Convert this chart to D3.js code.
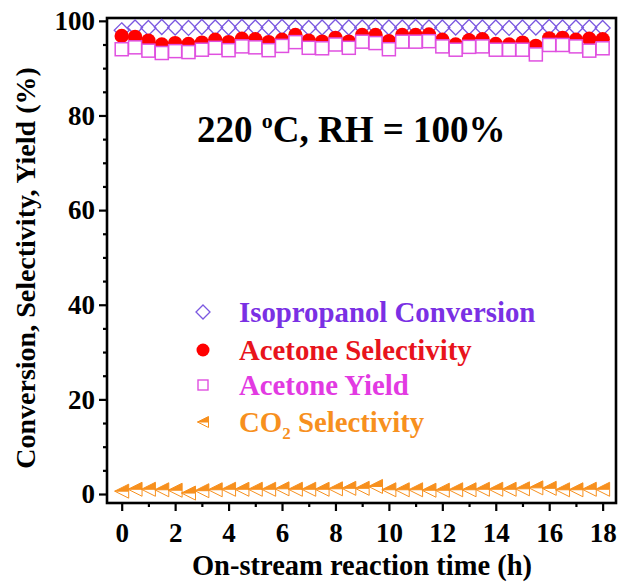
<!DOCTYPE html>
<html lang="en">
<head>
<meta charset="utf-8">
<title>Isopropanol conversion, 220 C</title>
<script src="https://cdn.jsdelivr.net/npm/d3@7"></script>
<style>
  body { margin: 0; background: #fff; }
  text { font-family: "Liberation Serif", "Times New Roman", serif; font-weight: bold; }
</style>
</head>
<body>
<script>
// time on stream (h), one sample every half hour
var hours = [0, 0.5, 1, 1.5, 2, 2.5, 3, 3.5, 4, 4.5, 5, 5.5, 6, 6.5, 7, 7.5, 8, 8.5, 9,
             9.5, 10, 10.5, 11, 11.5, 12, 12.5, 13, 13.5, 14, 14.5, 15, 15.5, 16, 16.5, 17, 17.5, 18];
var conversion = [98.0, 98.6, 98.5, 98.7, 98.6, 98.5, 98.7, 98.6, 98.6, 98.7, 98.6, 98.6, 98.7,
                  98.6, 98.5, 98.6, 98.7, 98.6, 98.6, 98.7, 98.6, 98.6, 98.7, 98.6, 98.6, 98.6,
                  98.7, 98.6, 98.6, 98.5, 98.6, 98.6, 98.7, 98.6, 98.6, 98.6, 98.5];
var selectivity = [96.8, 96.6, 95.8, 95.0, 95.3, 95.1, 95.4, 96.0, 95.5, 96.2, 96.1, 95.5, 96.0,
                   97.0, 95.8, 95.6, 96.4, 95.6, 97.0, 97.0, 95.7, 97.0, 97.0, 97.1, 96.0, 95.0,
                   95.9, 96.1, 95.1, 95.0, 95.4, 94.7, 96.3, 96.4, 96.0, 96.2, 96.1];
var yieldAcetone = [94.0, 94.4, 93.7, 93.2, 93.6, 93.4, 93.9, 94.3, 93.8, 94.6, 94.4, 93.8, 94.7,
                    95.5, 94.3, 94.2, 95.0, 94.3, 95.6, 95.3, 94.0, 95.6, 95.6, 95.7, 94.6, 93.9,
                    94.5, 94.6, 93.9, 93.9, 93.9, 92.9, 94.9, 94.9, 94.6, 93.7, 94.2];
var co2 = [0.6, 1.0, 1.0, 0.9, 0.8, 0.2, 0.7, 0.9, 1.0, 1.0, 1.0, 1.0, 1.1, 1.0, 1.0, 1.0, 1.1,
           1.2, 1.2, 1.6, 0.9, 0.9, 0.9, 0.8, 0.8, 0.9, 0.9, 1.0, 1.0, 1.0, 1.1, 1.3, 1.2, 0.9,
           0.9, 1.0, 1.0];

var xTicks = [0, 2, 4, 6, 8, 10, 12, 14, 16, 18];
var xMinor = [1, 3, 5, 7, 9, 11, 13, 15, 17];
var yTicks = [0, 20, 40, 60, 80, 100];
var yMinor = [5, 10, 15, 25, 30, 35, 45, 50, 55, 65, 70, 75, 85, 90, 95];

var legendNames = ["Isopropanol Conversion", "Acetone Selectivity", "Acetone Yield", "CO2 Selectivity"];

var cPurple = "#7a30e4", cDiamond = "#7b58e0";
var cRed = "#ff0000", cRedText = "#e8141c";
var cMag = "#e23ae2", cSquare = "#e050e0";
var cOrange = "#f7901e";

var W = 622, H = 583;
var svg = d3.select("body").append("svg").attr("width", W).attr("height", H);

var x = d3.scaleLinear().domain([-0.55, 18.5]).range([107, 616]);
var y = d3.scaleLinear().domain([-1.9, 100.6]).range([503, 18]);

// axes
var xAxis = svg.append("g").attr("transform", "translate(0," + y.range()[0] + ")")
    .call(d3.axisBottom(x).tickValues(xTicks).tickSize(8).tickPadding(6).tickFormat(d3.format("d")));
var xAxisMinor = svg.append("g").attr("transform", "translate(0," + y.range()[0] + ")")
    .call(d3.axisBottom(x).tickValues(xMinor).tickSize(4).tickFormat(""));
var yAxis = svg.append("g").attr("transform", "translate(" + x.range()[0] + ",0)")
    .call(d3.axisLeft(y).tickValues(yTicks).tickSize(8).tickPadding(4).tickFormat(d3.format("d")));
var yAxisMinor = svg.append("g").attr("transform", "translate(" + x.range()[0] + ",0)")
    .call(d3.axisLeft(y).tickValues(yMinor).tickSize(4).tickFormat(""));

[xAxis, xAxisMinor, yAxis, yAxisMinor].forEach(function(g) {
  g.select(".domain").remove();
  g.selectAll(".tick line").attr("stroke", "#000").attr("stroke-width", 2.2);
  g.selectAll(".tick text").attr("fill", "#000").style("font-size", "27px")
    .style("font-family", "'Liberation Serif', 'Times New Roman', serif").style("font-weight", "bold");
});
xAxis.selectAll(".tick text").attr("dy", "0.92em");

// frame
svg.append("rect")
  .attr("x", x.range()[0]).attr("y", y.range()[1])
  .attr("width", x.range()[1] - x.range()[0]).attr("height", y.range()[0] - y.range()[1])
  .attr("fill", "none").attr("stroke", "#000").attr("stroke-width", 2.6);

// axis titles
svg.append("text").attr("x", 362).attr("y", 575).attr("text-anchor", "middle")
  .style("font-size", "28.5px").text("On-stream reaction time (h)");
svg.append("text").attr("transform", "translate(35,268) rotate(-90)").attr("text-anchor", "middle")
  .style("font-size", "28px").text("Conversion, Selectivity, Yield (%)");

// condition label
var cond = svg.append("text").attr("x", 197).attr("y", 142).style("font-size", "37px");
cond.append("tspan").text("220 ");
cond.append("tspan").attr("dy", -14).style("font-size", "22px").text("o");
cond.append("tspan").attr("dy", 14).text("C, RH = 100%");

// marker helpers
function diamond(g, cx, cy, r) {
  g.append("path").attr("d", "M" + cx + "," + (cy - r) + "L" + (cx + r) + "," + cy + "L" + cx + "," + (cy + r) + "L" + (cx - r) + "," + cy + "Z")
    .attr("fill", "none").attr("stroke", cDiamond).attr("stroke-width", 1.3);
}
function halfTri(g, cx, cy, w) {
  var h = w / 2;
  g.append("path").attr("d", "M" + (cx - h) + "," + cy + "L" + (cx + h) + "," + (cy - h) + "L" + (cx + h) + "," + cy + "Z")
    .attr("fill", cOrange).attr("stroke", cOrange).attr("stroke-width", 1);
  g.append("path").attr("d", "M" + (cx - h) + "," + cy + "L" + (cx + h) + "," + (cy + h) + "L" + (cx + h) + "," + cy)
    .attr("fill", "none").attr("stroke", cOrange).attr("stroke-width", 1);
}

var marks = svg.append("g");
// CO2 selectivity
hours.forEach(function(t, i) { halfTri(marks, x(t), y(co2[i]), 14); });
// isopropanol conversion
hours.forEach(function(t, i) { diamond(marks, x(t), y(conversion[i]), 7.5); });
// acetone selectivity
marks.selectAll("circle.sel").data(hours).enter().append("circle").attr("class", "sel")
  .attr("cx", function(d) { return x(d); })
  .attr("cy", function(d, i) { return y(selectivity[i]); })
  .attr("r", 7.2).attr("fill", cRed);
// acetone yield
marks.selectAll("rect.yld").data(hours).enter().append("rect").attr("class", "yld")
  .attr("x", function(d) { return x(d) - 6.5; })
  .attr("y", function(d, i) { return y(yieldAcetone[i]) - 6.5; })
  .attr("width", 13).attr("height", 13)
  .attr("fill", "#fff").attr("stroke", cSquare).attr("stroke-width", 1.5);

// legend
var leg = svg.append("g");
var legY = [312, 350, 385, 422];
var legCol = [cPurple, cRedText, cMag, cOrange];
diamond(leg, 203, legY[0], 7);
leg.append("circle").attr("cx", 203).attr("cy", legY[1]).attr("r", 6.5).attr("fill", cRed);
leg.append("rect").attr("x", 198).attr("y", legY[2] - 5).attr("width", 10).attr("height", 10)
  .attr("fill", "#fff").attr("stroke", cSquare).attr("stroke-width", 1.4);
halfTri(leg, 203, legY[3], 11);

legendNames.forEach(function(name, i) {
  var t = leg.append("text").attr("x", 239).attr("y", legY[i] + 10).style("font-size", "28.8px")
    .attr("fill", legCol[i]);
  if (name.indexOf("CO2") === 0) {
    t.append("tspan").text("CO");
    t.append("tspan").attr("dy", 7).style("font-size", "17px").text("2");
    t.append("tspan").attr("dy", -7).text(" Selectivity");
  } else {
    t.text(name);
  }
});
</script>
</body>
</html>
